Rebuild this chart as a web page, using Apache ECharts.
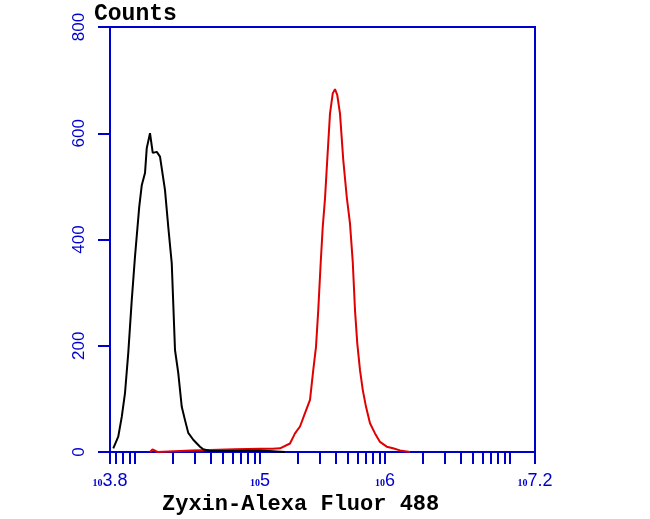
<!DOCTYPE html>
<html>
<head>
<meta charset="utf-8">
<script src="https://cdn.jsdelivr.net/npm/echarts@6/dist/echarts.min.js"></script>
<style>html,body{margin:0;padding:0;background:#fff;}#c{width:650px;height:519px;}</style>
</head>
<body>
<div id="c"></div>
<script>
// x values are log10(fluorescence)
const blackX = [3.826,3.866,3.894,3.92,3.946,3.974,4.0,4.034,4.054,4.08,4.094,4.12,4.142,4.174,4.2,4.24,4.266,4.294,4.32,4.346,4.374,4.4,4.426,4.466,4.52,4.546,4.6,4.8,5.0,5.2];
const blackY = [7,29,66,111,186,286,368,462,502,525,572,600,563,565,556,493,424,355,192,149,85,60,36,23,10,5,2,2,3,0];
const redX = [4.12,4.14,4.18,4.45,4.6,4.8,5.0,5.1,5.16,5.24,5.28,5.32,5.36,5.4,5.426,5.448,5.466,5.486,5.502,5.52,5.538,5.56,5.582,5.6,5.618,5.64,5.666,5.694,5.72,5.742,5.76,5.778,5.8,5.822,5.848,5.88,5.92,5.96,6.014,6.064,6.12,6.2];
const redY = [0,5,0,3,4,5,6,6,7,16,35,48,73,98,154,198,267,358,424,477,550,637,675,683,672,637,550,480,430,358,267,205,154,117,85,54,35,19,10,7,3,0];
const xTickValues = [3.8,5,6,7.2];
const xTickLabels = ['3.8','5','6','7.2'];
const yTicks = [0,200,400,600,800];
const xTitle = 'Zyxin-Alexa Fluor 488';
const yTitle = 'Counts';

const minorTicks = [3.8];
[7000,8000,9000].forEach(v=>minorTicks.push(Math.log10(v)));
[1e4,1e5,1e6].forEach(d=>{for(let k=1;k<=9;k++) minorTicks.push(Math.log10(k*d));});
minorTicks.push(7, 7.2);

const blue = '#0000cc';
const chart = echarts.init(document.getElementById('c'));
chart.setOption({
  animation:false,
  grid:{left:110,right:115,top:27,bottom:67,show:true,borderColor:blue,borderWidth:2,backgroundColor:'transparent'},
  xAxis:{type:'value',min:3.8,max:7.2,
    axisLine:{lineStyle:{color:blue,width:2}},
    splitLine:{show:false},
    axisTick:{show:true,length:12,lineStyle:{color:blue,width:2},customValues:minorTicks},
    axisLabel:{margin:20,customValues:xTickValues,
      formatter:v=>{const i=xTickValues.findIndex(t=>Math.abs(t-v)<1e-6);return '{a|10}{b|'+(i>=0?xTickLabels[i]:v)+'}';},
      rich:{a:{fontSize:10,color:blue,fontFamily:'Liberation Serif',fontWeight:'bold'},b:{fontSize:18,color:blue,fontFamily:'Liberation Sans',padding:[0,0,4,0]}}}
  },
  yAxis:{type:'value',min:0,max:800,interval:200,
    axisLine:{show:true,lineStyle:{color:blue,width:2}},
    splitLine:{show:false},
    axisTick:{show:true,length:12,lineStyle:{color:blue,width:2}},
    axisLabel:{rotate:90,margin:22,color:blue,fontSize:17,fontFamily:'Liberation Sans',
      formatter:v=>yTicks.includes(v)?String(v):''}
  },
  graphic:[
    {type:'text',left:94,top:3,style:{text:yTitle,font:'bold 23px "Liberation Mono"',fill:'#000'}},
    {type:'text',left:162,top:493,style:{text:xTitle,font:'bold 22px "Liberation Mono"',fill:'#000'}}
  ],
  series:[
    {type:'line',data:blackX.map((x,i)=>[x,blackY[i]]),showSymbol:false,lineStyle:{color:'#000',width:2},z:3},
    {type:'line',data:redX.map((x,i)=>[x,redY[i]]),showSymbol:false,lineStyle:{color:'#e00000',width:2},z:2}
  ]
});
</script>
</body>
</html>
